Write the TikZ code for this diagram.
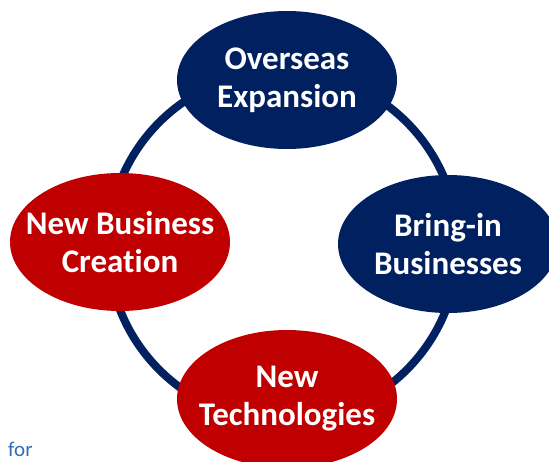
\documentclass[tikz,border=0pt]{standalone}
\usepackage{fontspec}
\setmainfont{Carlito}[Ligatures=NoCommon]
\usetikzlibrary{shapes.geometric}
\definecolor{navy}{HTML}{002060}
\definecolor{darkred}{HTML}{C00000}
\definecolor{linkblue}{HTML}{2E6DB4}

\begin{document}
\begin{tikzpicture}[x=1pt,y=-1pt,
        bubble/.style={ellipse, minimum width=220pt, minimum height=138pt, inner sep=-25pt,
            align=center, text=white, font=\fontsize{33}{38}\selectfont\bfseries}]
        \clip (0,0) rectangle (549,461);

        % ring behind the four bubbles
        \coordinate (0) at (283,246);
        \draw[navy, line width=8pt] (0) circle (175pt);

        \node[bubble, fill=navy] (1) at (287,80) {Overseas\\Expansion};
        \node[bubble, fill=navy] (2) at (448,244) {Bring-in\\Businesses};
        \node[bubble, fill=darkred] (3) at (287,399) {New\\Technologies};
        \node[bubble, fill=darkred] (4) at (120,242) {New Business\\Creation};

        \node[anchor=base west, inner sep=0pt, text=linkblue, font=\fontsize{21}{24}\selectfont] (5) at (8,456) {for};
    \end{tikzpicture}
\end{document}
